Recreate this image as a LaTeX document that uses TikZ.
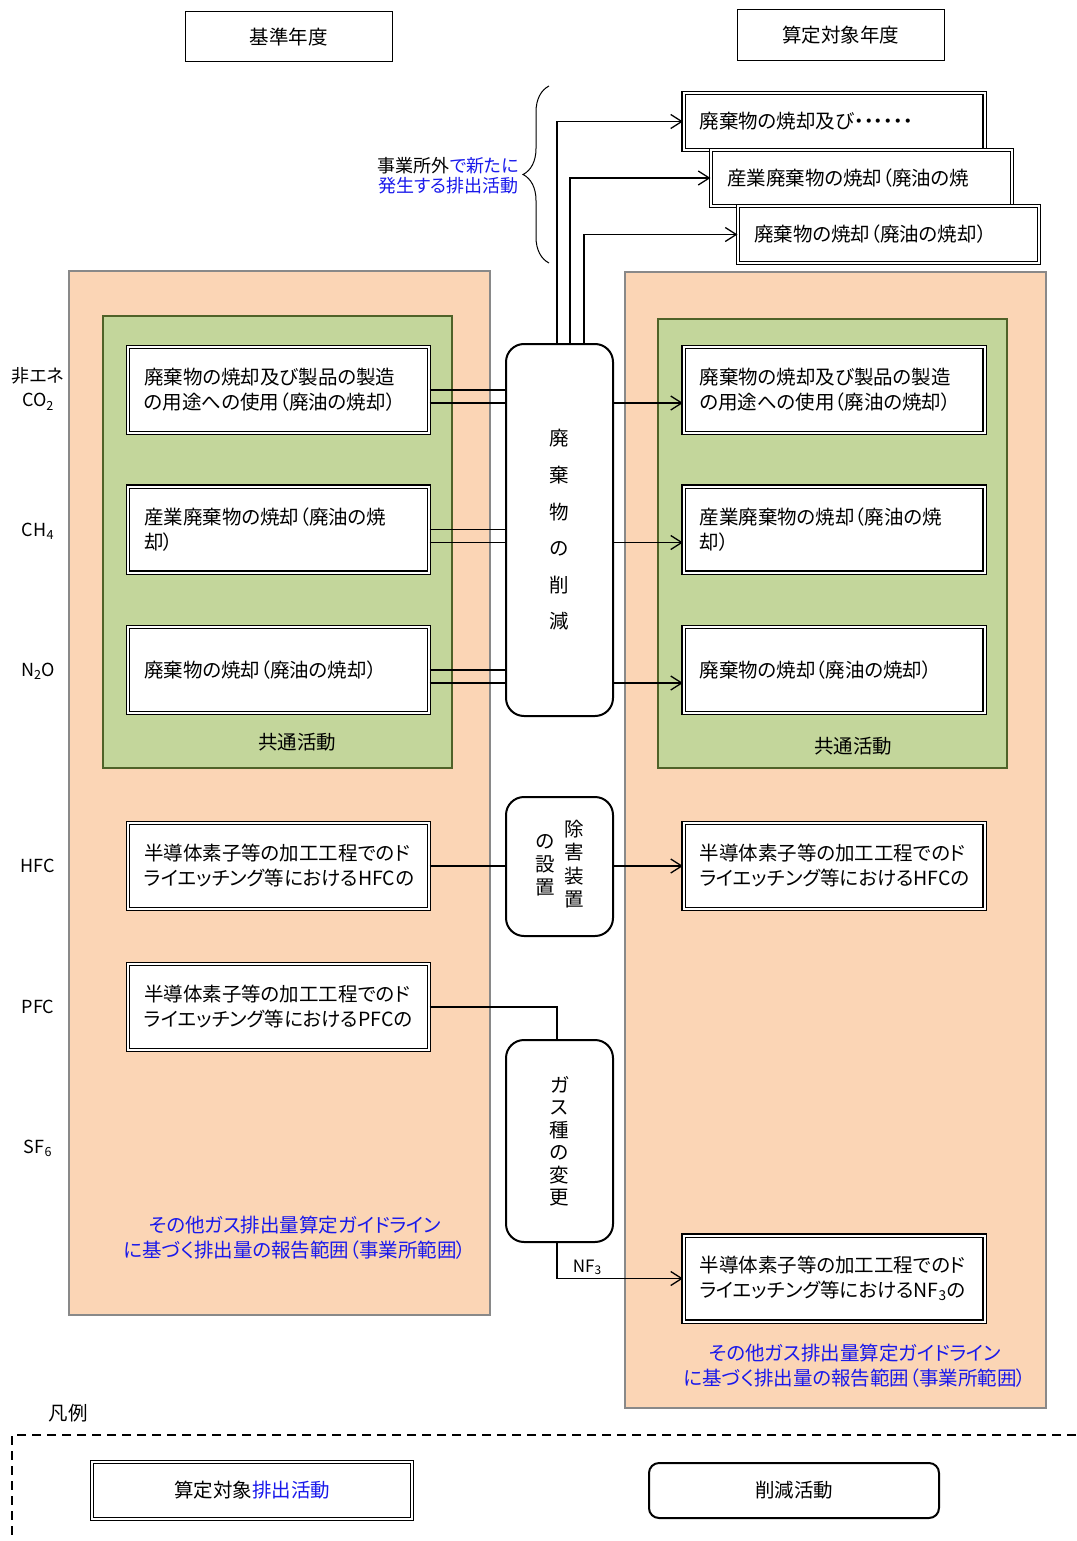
\documentclass[tikz,border=0pt]{standalone}
\usepackage{fontspec}
\setmainfont{Noto Sans CJK JP}[RawFeature={+palt}]
\usetikzlibrary{arrows.meta,decorations.pathreplacing,calc}
\definecolor{peach}{RGB}{251,213,181}
\definecolor{leaf}{RGB}{195,214,155}
\definecolor{leafline}{RGB}{79,98,40}
\definecolor{zoneline}{RGB}{137,137,137}
\definecolor{txtblue}{RGB}{25,25,235}
\newcommand{\bx}{\fontsize{19.5pt}{25pt}\selectfont}
\tikzset{
  zone/.style={fill=peach,draw=zoneline,line width=2pt},
  common/.style={fill=leaf,draw=leafline,line width=1.3pt},
  actbox/.style={draw,double,double distance=2pt,line width=1.1pt,fill=white,
    text width=269pt,inner xsep=16pt,inner ysep=0pt,minimum height=86pt,align=left,font=\bx},
  cutbox/.style={draw,line width=2pt,rounded corners=18pt,fill=white,minimum width=107pt,align=center},
  yearbox/.style={draw,line width=1pt,minimum width=207pt,minimum height=50pt,font=\bx},
  gas/.style={font=\fontsize{18pt}{24pt}\selectfont,align=center},
  link/.style={line width=1.3pt}
}
\begin{document}
\begin{tikzpicture}[x=1pt,y=-1pt,>={Straight Barb[length=11pt,width=14pt]}]
      \useasboundingbox (0,0) rectangle (1076,1541);
          %zones
          \draw[zone] (69,271) rectangle (490,1315);
          \draw[common] (103,316) rectangle (452,768);
          \draw[zone] (625,272) rectangle (1046,1408);
          \draw[common] (658,319) rectangle (1007,768);
          \node[font=\bx] (commonL) at (297,742) {共通活動};
          \node[font=\bx] (commonR) at (853,746) {共通活動};
          \node[font=\bx,text=txtblue,align=center] (scopeL) at (295,1238) {その他ガス排出量算定ガイドライン\\に基づく排出量の報告範囲（事業所範囲）};
          \node[font=\bx,text=txtblue,align=center] (scopeR) at (855,1366) {その他ガス排出量算定ガイドライン\\に基づく排出量の報告範囲（事業所範囲）};
          %years
          \node[yearbox] (base) at (288.5,37) {基準年度};
          \node[yearbox,minimum height=51pt] (target) at (840.5,35.5) {算定対象年度};
          %gases
          \node[gas] (co2) at (38,389) {非エネ\\CO\textsubscript{2}};
          \node[gas] (ch4) at (38,531) {CH\textsubscript{4}};
          \node[gas] (n2o) at (38,671) {N\textsubscript{2}O};
          \node[gas] (hfc) at (38,866) {HFC};
          \node[gas] (pfc) at (38,1007) {PFC};
          \node[gas] (sf6) at (38,1148) {SF\textsubscript{6}};
          %base year activities
          \node[actbox] (L1) at (278.5,390) {廃棄物の焼却及び製品の製造\\の用途への使用（廃油の焼却）};
          \node[actbox] (L2) at (278.5,529.5) {産業廃棄物の焼却（廃油の焼\\却）};
          \node[actbox] (L3) at (278.5,670) {廃棄物の焼却（廃油の焼却）};
          \node[actbox] (LH) at (278.5,866) {半導体素子等の加工工程でのド\\ライエッチング等におけるHFCの};
          \node[actbox] (LP) at (278.5,1007) {半導体素子等の加工工程でのド\\ライエッチング等におけるPFCの};
          %target year activities
          \node[actbox] (R1) at (834,390) {廃棄物の焼却及び製品の製造\\の用途への使用（廃油の焼却）};
          \node[actbox] (R2) at (834,529.5) {産業廃棄物の焼却（廃油の焼\\却）};
          \node[actbox] (R3) at (834,670) {廃棄物の焼却（廃油の焼却）};
          \node[actbox] (RH) at (834,866) {半導体素子等の加工工程でのド\\ライエッチング等におけるHFCの};
          \node[actbox] (RN) at (834,1278.5) {半導体素子等の加工工程でのド\\ライエッチング等におけるNF\textsubscript{3}の};
          %outside the site
          \node[actbox,minimum height=57pt] (outA) at (834,121.5) {廃棄物の焼却及び・・・・・・};
          \node[actbox,minimum height=56pt] (outB) at (861.5,178) {産業廃棄物の焼却（廃油の焼};
          \node[actbox,minimum height=57pt] (outC) at (888.5,234.5) {廃棄物の焼却（廃油の焼却）};
          \draw[line width=1pt,decorate,decoration={brace,amplitude=26pt}] (549,263) -- (549,86);
          \node[anchor=east,align=right,inner sep=0pt,font=\fontsize{18pt}{20pt}\selectfont] (newsrc) at (519,176) {事業所外\textcolor{txtblue}{で新たに}\\\textcolor{txtblue}{発生する排出活動}};
          %reductions
          \node[cutbox,minimum height=372pt,font=\fontsize{19.5pt}{36.6pt}\selectfont] (cut) at (559.5,530) {廃\\棄\\物\\の\\削\\減};
          \node[cutbox,minimum height=139pt,font=\fontsize{19.5pt}{23pt}\selectfont] (abate) at (559.5,866.5) {\begin{tabular}[c]{@{}c@{}}の\\設\\置\end{tabular}\hspace{9pt}\begin{tabular}[c]{@{}c@{}}除\\害\\装\\置\end{tabular}};
          \node[cutbox,minimum height=202pt,font=\fontsize{19.5pt}{22.5pt}\selectfont] (swap) at (559.5,1141) {ガ\\ス\\種\\の\\変\\更};
          %links
          \draw[link] (L1.east) -- (L1.east -| cut.west);
          \draw[link] ($(L1.east)+(0,-13pt)$) -- ($(L1.east -| cut.west)+(0,-13pt)$);
          \draw[link] (L2.east) -- (L2.east -| cut.west);
          \draw[link] ($(L2.east)+(0,-13pt)$) -- ($(L2.east -| cut.west)+(0,-13pt)$);
          \draw[link] (L3.east) -- (L3.east -| cut.west);
          \draw[link] ($(L3.east)+(0,-13pt)$) -- ($(L3.east -| cut.west)+(0,-13pt)$);
          \draw[link,->] ($(R1.west -| cut.east)+(0,-13pt)$) -- ($(R1.west)+(0,-13pt)$);
          \draw[link,->] ($(R2.west -| cut.east)+(0,-13pt)$) -- ($(R2.west)+(0,-13pt)$);
          \draw[link,->] ($(R3.west -| cut.east)+(0,-13pt)$) -- ($(R3.west)+(0,-13pt)$);
          \draw[link,->] ([xshift=-2.5pt]cut.north) |- (outA.west);
          \draw[link,->] ([xshift=10.5pt]cut.north) |- (outB.west);
          \draw[link,->] ([xshift=24.5pt]cut.north) |- (outC.west);
          \draw[link] (LH.east) -- (LH.east -| abate.west);
          \draw[link,->] (RH.west -| abate.east) -- (RH.west);
          \draw[link] (LP.east) -| ([xshift=-2.5pt]swap.north);
          \draw[link,->] ([xshift=-2.5pt]swap.south) |- (RN.west) node[pos=0.62,above,inner sep=3pt,font=\fontsize{17pt}{20pt}\selectfont] (nf3) {NF\textsubscript{3}};
          %legend
          \node[font=\bx] (legend) at (68,1413) {凡例};
          \draw[line width=1.8pt,dash pattern=on 9pt off 6pt] (1076,1435) -- (12,1435) -- (12,1541);
          \node[actbox,text width=288pt,minimum height=57pt,align=center] (keyA) at (252,1490.5) {算定対象\textcolor{txtblue}{排出活動}};
          \node[cutbox,minimum width=290pt,minimum height=55pt,rounded corners=10pt,font=\bx] (keyB) at (794,1490.5) {削減活動};
    \end{tikzpicture}
\end{document}
